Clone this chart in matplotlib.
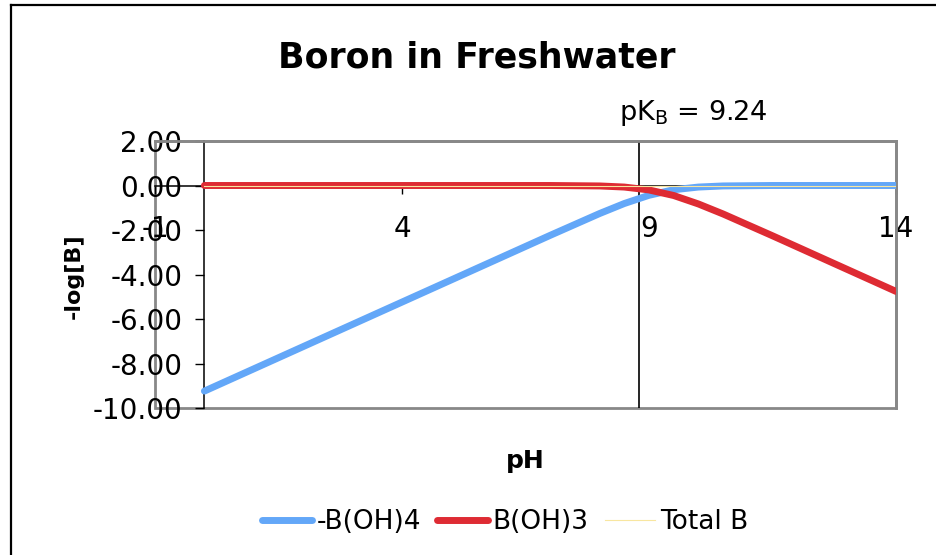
import matplotlib
matplotlib.use("Agg")
from matplotlib import pyplot as plt
from matplotlib.lines import Line2D
from matplotlib.patches import Rectangle

plt.rcParams["font.family"] = ["DejaVu Sans"]
plt.rcParams["axes.unicode_minus"] = False

# 数据 (读图得到)
ph = [0, 1, 2, 3, 4, 5, 6, 7, 7.5, 8, 8.5, 9, 9.5, 10, 10.5, 11, 11.5, 12, 13, 14]
borate = [-9.24, -8.24, -7.24, -6.24, -5.24, -4.24, -3.24, -2.24, -1.75, -1.26,
          -0.81, -0.44, -0.19, -0.07, -0.02, -0.01, 0.00, 0.00, 0.00, 0.00]
boric = [0.00, 0.00, 0.00, 0.00, 0.00, 0.00, 0.00, 0.00, -0.01, -0.02,
         -0.07, -0.20, -0.45, -0.83, -1.28, -1.77, -2.26, -2.76, -3.76, -4.76]
total = [0.00] * len(ph)

x_ticks = [-1, 4, 9, 14]
y_ticks = [-10, -8, -6, -4, -2, 0, 2]
pk_line = 8.8  # 图中竖线位置
pk_label = "pK$_{\\mathrm{B}}$ = 9.24"

W, H = 936, 555
fig = plt.figure(figsize=(W / 100, H / 100), dpi=100)
ax = fig.add_axes([155 / W, 1 - 408 / H, 741 / W, 267 / H])

# 绘制曲线
ax.plot(ph, borate, color="#63A7F8", lw=5, solid_capstyle="round", solid_joinstyle="round",
        label="-B(OH)4", zorder=3)
ax.plot(ph, boric, color="#DE2B33", lw=5, solid_capstyle="round", solid_joinstyle="round",
        label="B(OH)3", zorder=4)
ax.plot(ph, total, color="#F8E6A0", lw=0.8, label="Total B", zorder=5)

ax.axvline(pk_line, color="black", lw=1.2, zorder=2)

ax.set_xlim(-1, 14)
ax.set_ylim(-10, 2)

# 坐标轴: 灰色边框 + 过零点的黑色轴
for s in ["top", "right"]:
    ax.spines[s].set_color("#888888")
    ax.spines[s].set_linewidth(2)
ax.add_patch(Rectangle((0, 0), 1, 1, transform=ax.transAxes, fill=False,
                       ec="#888888", lw=2, clip_on=False, zorder=0.5))
ax.spines["left"].set_position(("data", 0))
ax.spines["bottom"].set_position(("data", 0))
for s in ["left", "bottom"]:
    ax.spines[s].set_color("black")
    ax.spines[s].set_linewidth(1.1)
    ax.spines[s].set_zorder(1)

ax.set_xticks(x_ticks)
ax.set_xticklabels([str(v) for v in x_ticks])
ax.set_yticks(y_ticks)
ax.set_yticklabels(["{:.2f}".format(v) for v in y_ticks])
ax.tick_params(axis="y", direction="out", length=6.5, width=1, pad=9.5, labelsize=20)
ax.tick_params(axis="x", direction="out", length=6, width=1, pad=15, labelsize=20)

# 文字
fig.text(477 / W, 1 - 57 / H, "Boron in Freshwater", fontsize=25, fontweight="bold",
         ha="center", va="center")
fig.text(693 / W, 1 - 113 / H, pk_label, fontsize=19.5, ha="center", va="center")
fig.text(74 / W, 1 - 276 / H, "-log[B]", fontsize=16, fontweight="bold",
         rotation=90, ha="center", va="center")
fig.text(525 / W, 1 - 461 / H, "pH", fontsize=18, fontweight="bold",
         ha="center", va="center")

# 图例
fig.legend(loc="center", bbox_to_anchor=(505 / W, 1 - 522 / H), ncol=3, frameon=False,
           fontsize=19, handlelength=1.9, handletextpad=0.2, columnspacing=0.6)

# 外框
fig.add_artist(Line2D([11 / W, 11 / W], [0, 1 - 5 / H], transform=fig.transFigure,
                      color="black", lw=1.6))
fig.add_artist(Line2D([11 / W, 1], [1 - 5 / H, 1 - 5 / H], transform=fig.transFigure,
                      color="black", lw=1.6))

plt.savefig("out.png", dpi=100)
